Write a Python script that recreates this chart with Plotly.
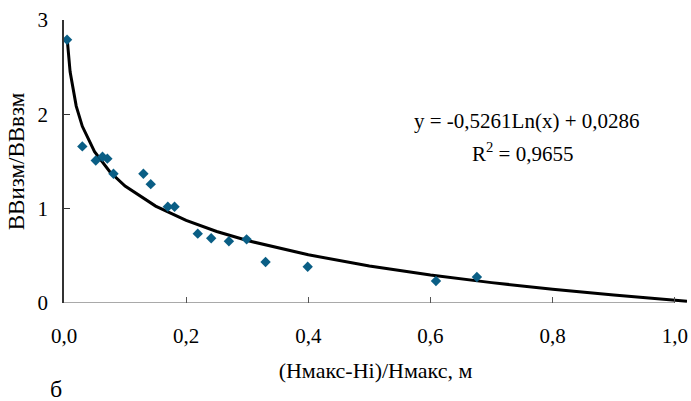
import plotly.graph_objects as go

# Measured points
x_obs = [0.005, 0.030, 0.052, 0.063, 0.071, 0.081, 0.130, 0.142, 0.170, 0.181,
         0.219, 0.241, 0.270, 0.299, 0.330, 0.399, 0.609, 0.676]
y_obs = [2.79, 1.66, 1.51, 1.55, 1.53, 1.37, 1.37, 1.26, 1.02, 1.02,
         0.735, 0.686, 0.654, 0.675, 0.435, 0.384, 0.233, 0.276]

# Logarithmic trendline, values
x_trend = [0.005, 0.01, 0.02, 0.03, 0.05, 0.075, 0.1, 0.15, 0.2, 0.25, 0.3,
           0.4, 0.5, 0.6, 0.7, 0.8, 0.9, 1.0, 1.02]
y_trend = [2.816, 2.451, 2.087, 1.873, 1.605, 1.391, 1.240, 1.027, 0.875, 0.758,
           0.662, 0.511, 0.393, 0.297, 0.216, 0.146, 0.084, 0.029, 0.018]

x_ticks = [0.0, 0.2, 0.4, 0.6, 0.8, 1.0]
x_ticklabels = ["0,0", "0,2", "0,4", "0,6", "0,8", "1,0"]
y_ticks = [0, 1, 2, 3]
y_ticklabels = ["0", "1", "2", "3"]

FONT = "Liberation Serif, Times New Roman, serif"

fig = go.Figure()
fig.add_trace(go.Scatter(x=x_trend, y=y_trend, mode="lines",
                         line=dict(color="black", width=3), showlegend=False,
                         hoverinfo="skip"))
fig.add_trace(go.Scatter(x=x_obs, y=y_obs, mode="markers",
                         marker=dict(symbol="diamond", size=8, color="#0A5E85"),
                         showlegend=False, cliponaxis=False))

# x axis line from 0 to 1.0
fig.add_shape(type="line", xref="x", yref="y", x0=x_ticks[0], x1=x_ticks[-1], y0=0, y1=0,
              line=dict(color="#8c8c8c", width=1.5), layer="below")

fig.add_annotation(text="y = -0,5261Ln(x) + 0,0286", xref="paper", yref="paper",
                   x=(527 - 64) / (687 - 64), y=(303 - 121) / (303 - 20),
                   showarrow=False, font=dict(family=FONT, size=21, color="black"),
                   xanchor="center", yanchor="middle")
fig.add_annotation(text="R<sup>2</sup> = 0,9655", xref="paper", yref="paper",
                   x=(522 - 64) / (687 - 64), y=(303 - 152) / (303 - 20),
                   showarrow=False, font=dict(family=FONT, size=21, color="black"),
                   xanchor="center", yanchor="middle")
fig.add_annotation(text="б", xref="paper", yref="paper",
                   x=(56 - 64) / (687 - 64), y=(303 - 389) / (303 - 20),
                   showarrow=False, font=dict(family=FONT, size=24, color="black"),
                   xanchor="center", yanchor="middle")

fig.update_layout(
    width=691, height=401,
    margin=dict(l=64, r=4, t=20, b=98),
    plot_bgcolor="white", paper_bgcolor="white",
    font=dict(family=FONT, size=21, color="black"),
    xaxis=dict(range=[0, 1.02], tickvals=x_ticks, ticktext=x_ticklabels,
               ticks="inside", ticklen=6, tickcolor="#555", showgrid=False,
               zeroline=False, showline=False, ticklabelstandoff=18,
               title=dict(text="(Нмакс-Нi)/Нмакс, м", font=dict(family=FONT, size=22),
                          standoff=15)),
    yaxis=dict(range=[0, 3], tickvals=y_ticks, ticktext=y_ticklabels,
               ticks="inside", ticklen=6, tickcolor="#333", showgrid=False,
               zeroline=False, showline=True, linecolor="#333", linewidth=1.5,
               ticklabelstandoff=10,
               title=dict(text="ВВизм/ВВвзм", font=dict(family=FONT, size=23),
                          standoff=6)),
)

fig.write_html("out.html")
